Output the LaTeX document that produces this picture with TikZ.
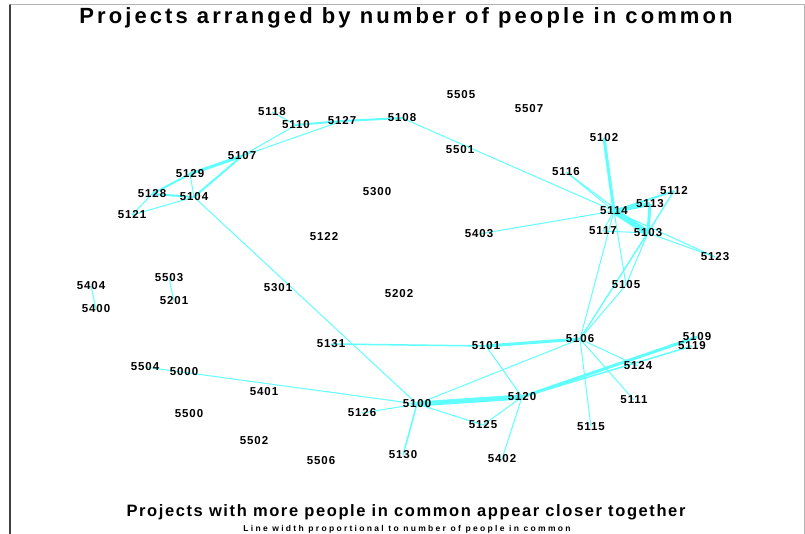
\documentclass[tikz,border=0pt]{standalone}
\usepackage{fontspec}
\newfontfamily\titlefont[LetterSpace=14]{Liberation Sans}
\newfontfamily\capfont[LetterSpace=9.7]{Liberation Sans}
\newfontfamily\notefont[LetterSpace=27]{Liberation Sans}
\newfontfamily\projfont[LetterSpace=8]{Liberation Sans}
\usetikzlibrary{backgrounds}
\definecolor{linkcyan}{RGB}{95,255,255}

\begin{document}
\begin{tikzpicture}[x=1pt, y=-1pt, line cap=round, line join=round,
    proj/.style={inner sep=0pt, font=\projfont\bfseries\fontsize{11.5}{12}\selectfont},
    share/.style={draw=linkcyan, line width=#1}, share/.default=1pt]
  \useasboundingbox (0,0) rectangle (805,534);

  %--- frame and captions ---------------------------------------------------
  \draw[gray!60, line width=1pt] (10,534) -- (10,5) -- (804,5) -- (804,534);
  \draw[black!75, line width=1.5pt] (10,534) -- (10,5);
  \node[anchor=base, inner sep=0pt, font=\titlefont\bfseries\fontsize{22}{26}\selectfont]
    (title) at (406,24) {Projects arranged by number of people in common};
  \node[anchor=base, inner sep=0pt, font=\capfont\bfseries\fontsize{16.5}{20}\selectfont]
    (caption) at (406,516) {Projects with more people in common appear closer together};
  \node[anchor=base, inner sep=0pt, font=\notefont\bfseries\fontsize{8.5}{10}\selectfont]
    (note) at (407,531) {Line width proportional to number of people in common};

  %--- projects -------------------------------------------------------------
  \node[proj] (p5118) at (272,112) {5118};
  \node[proj] (p5110) at (296,125) {5110};
  \node[proj] (p5127) at (342,121) {5127};
  \node[proj] (p5108) at (402,118) {5108};
  \node[proj] (p5505) at (461,95)  {5505};
  \node[proj] (p5507) at (529,109) {5507};
  \node[proj] (p5501) at (460,150) {5501};
  \node[proj] (p5107) at (242,156) {5107};
  \node[proj] (p5102) at (604,138) {5102};
  \node[proj] (p5129) at (190,174) {5129};
  \node[proj] (p5116) at (566,172) {5116};
  \node[proj] (p5112) at (674,191) {5112};
  \node[proj] (p5128) at (152,194) {5128};
  \node[proj] (p5104) at (194,197) {5104};
  \node[proj] (p5300) at (377,192) {5300};
  \node[proj] (p5113) at (650,204) {5113};
  \node[proj] (p5121) at (132,215) {5121};
  \node[proj] (p5114) at (614,211) {5114};
  \node[proj] (p5117) at (603,231) {5117};
  \node[proj] (p5103) at (648,233) {5103};
  \node[proj] (p5403) at (479,234) {5403};
  \node[proj] (p5122) at (324,237) {5122};
  \node[proj] (p5123) at (715,257) {5123};
  \node[proj] (p5503) at (169,278) {5503};
  \node[proj] (p5404) at (91,286)  {5404};
  \node[proj] (p5201) at (174,301) {5201};
  \node[proj] (p5301) at (278,288) {5301};
  \node[proj] (p5202) at (399,294) {5202};
  \node[proj] (p5105) at (626,285) {5105};
  \node[proj] (p5400) at (96,309)  {5400};
  \node[proj] (p5109) at (697,337) {5109};
  \node[proj] (p5106) at (580,339) {5106};
  \node[proj] (p5119) at (692,346) {5119};
  \node[proj] (p5131) at (331,344) {5131};
  \node[proj] (p5101) at (486,346) {5101};
  \node[proj] (p5124) at (638,366) {5124};
  \node[proj] (p5504) at (145,367) {5504};
  \node[proj] (p5000) at (184,372) {5000};
  \node[proj] (p5401) at (264,392) {5401};
  \node[proj] (p5111) at (634,400) {5111};
  \node[proj] (p5100) at (417,404) {5100};
  \node[proj] (p5120) at (522,397) {5120};
  \node[proj] (p5126) at (362,413) {5126};
  \node[proj] (p5500) at (189,414) {5500};
  \node[proj] (p5125) at (483,425) {5125};
  \node[proj] (p5115) at (591,427) {5115};
  \node[proj] (p5502) at (254,441) {5502};
  \node[proj] (p5130) at (403,455) {5130};
  \node[proj] (p5402) at (502,459) {5402};
  \node[proj] (p5506) at (321,461) {5506};

  %--- people in common (behind the labels) ---------------------------------
  \begin{pgfonlayer}{background}
    % left group
    \draw[share] (p5118.center) -- (p5110.center);
    \draw[share=2pt] (p5110.center) -- (p5127.center);
    \draw[share=2pt] (p5127.center) -- (p5108.center);
    \draw[share] (p5110.center) -- (p5107.center);
    \draw[share] (p5127.center) -- (p5107.center);
    \draw[share=3pt] (p5107.center) -- (p5129.center);
    \draw[share=2pt] (p5107.center) -- (p5104.center);
    \draw[share=2pt] (p5128.center) -- (p5129.center);
    \draw[share] (p5129.center) -- (p5104.center);
    \draw[share=2pt] (p5128.center) -- (p5104.center);
    \draw[share] (p5128.center) -- (p5121.center);
    \draw[share] (p5121.center) -- (p5104.center);
    \draw[share] (p5104.center) -- (p5100.center);
    \draw[share] (p5108.center) -- (p5114.center);
    \draw[share] (p5404.center) -- (p5400.center);
    \draw[share] (p5503.center) -- (p5201.center);
    % right group
    \draw[share=3pt] (p5102.center) -- (p5114.center);
    \draw[share] (p5116.center) -- (p5114.center);
    \draw[share] (p5116.center) -- (p5103.center);
    \draw[share=2pt] (p5114.center) -- (p5112.center);
    \draw[share=4pt] (p5114.center) -- (p5113.center);
    \draw[share=6pt] (p5114.center) -- (p5103.center);
    \draw[share=3pt] (p5113.center) -- (p5103.center);
    \draw[share] (p5112.center) -- (p5103.center);
    \draw[share] (p5112.center) -- (p5106.center);
    \draw[share] (p5114.center) -- (p5123.center);
    \draw[share] (p5103.center) -- (p5123.center);
    \draw[share] (p5114.center) -- (p5117.center);
    \draw[share] (p5117.center) -- (p5103.center);
    \draw[share] (p5114.center) -- (p5403.center);
    \draw[share] (p5114.center) -- (p5106.center);
    \draw[share] (p5114.center) -- (p5105.center);
    \draw[share] (p5103.center) -- (p5106.center);
    \draw[share] (p5103.center) -- (p5105.center);
    \draw[share] (p5105.center) -- (p5106.center);
    % lower group
    \draw[share=1.5pt] (p5131.center) -- (p5101.center);
    \draw[share=3pt] (p5101.center) -- (p5106.center);
    \draw[share] (p5101.center) -- (p5120.center);
    \draw[share] (p5106.center) -- (p5100.center);
    \draw[share] (p5106.center) -- (p5124.center);
    \draw[share] (p5106.center) -- (p5111.center);
    \draw[share] (p5106.center) -- (p5115.center);
    \draw[share=5pt] (p5100.center) -- (p5120.center);
    \draw[share=3pt] (p5120.center) -- (p5109.center);
    \draw[share=1.5pt] (p5120.center) -- (p5119.center);
    \draw[share] (p5100.center) -- (p5125.center);
    \draw[share] (p5120.center) -- (p5125.center);
    \draw[share] (p5120.center) -- (p5402.center);
    \draw[share=1.5pt] (p5100.center) -- (p5130.center);
    \draw[share] (p5100.center) -- (p5126.center);
    \draw[share] (p5504.center) -- (p5100.center);
  \end{pgfonlayer}
\end{tikzpicture}
\end{document}
